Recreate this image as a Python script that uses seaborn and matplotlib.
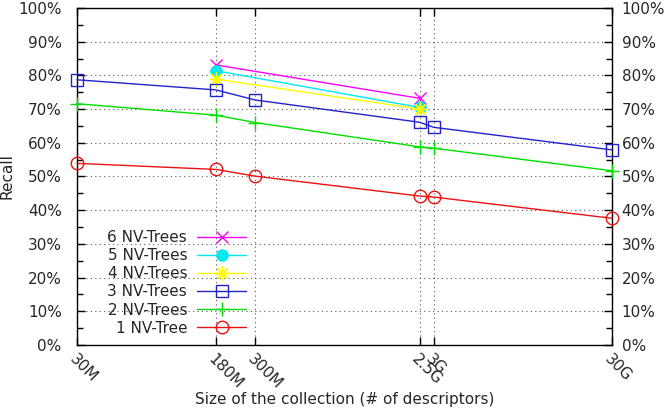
import matplotlib
matplotlib.use("Agg")
import matplotlib.pyplot as plt
import matplotlib.transforms as mtransforms
import seaborn as sns
import pandas as pd
import numpy as np
from matplotlib.ticker import FixedLocator, MultipleLocator, FuncFormatter, NullLocator

# ---- data ----
tick_values = [30e6, 180e6, 300e6, 2.5e9, 3e9, 30e9]
tick_labels = ["30M", "180M", "300M", "2.5G", "3G", "30G"]

x_full = [30e6, 180e6, 300e6, 2.5e9, 3e9, 30e9]
x_part = [180e6, 2.5e9]

recall_1 = [53.9, 52.1, 50.1, 44.2, 43.9, 37.6]
recall_2 = [71.6, 68.2, 66.0, 58.8, 58.4, 51.7]
recall_3 = [78.7, 75.7, 72.7, 66.1, 64.6, 57.9]
recall_4 = [78.9, 70.0]
recall_5 = [81.4, 70.5]
recall_6 = [83.1, 73.2]

series_names = ["6 NV-Trees", "5 NV-Trees", "4 NV-Trees", "3 NV-Trees", "2 NV-Trees", "1 NV-Tree"]

sns.set_style("ticks")
plt.rcParams['font.family'] = ['DejaVu Sans']
FS = 11

fig = plt.figure(figsize=(6.67, 4.11), dpi=100)
ax = fig.add_axes([77/667, 66/411, 535/667, 337/411])

styles = [
    (x_part, recall_6, series_names[0], "#ff00ff", "x", dict(markersize=9, markeredgewidth=1.0)),
    (x_part, recall_5, series_names[1], "#00e8f0", "o", dict(markersize=9, markeredgewidth=0)),
    (x_part, recall_4, series_names[2], "#ffff00", (8, 2, 0), dict(markersize=10, markeredgewidth=1.0)),
    (x_full, recall_3, series_names[3], "#2222cc", "s", dict(markersize=8.5, markeredgewidth=1.0, fillstyle="none")),
    (x_full, recall_2, series_names[4], "#00e000", "+", dict(markersize=10, markeredgewidth=1.0)),
    (x_full, recall_1, series_names[5], "#ee1111", "o", dict(markersize=9, markeredgewidth=1.0, fillstyle="none")),
]

for xs, ys, name, col, mk, kw in styles:
    df = pd.DataFrame({"x": xs, "y": ys})
    sns.lineplot(data=df, x="x", y="y", ax=ax, color=col, marker=mk, linewidth=1.0,
                 label=name, markeredgecolor=col, clip_on=False, zorder=3, **kw)

ax.set_xscale("log")
ax.set_xlim(30e6, 30e9)
ax.set_ylim(0, 100)

ax.xaxis.set_major_locator(FixedLocator(tick_values))
ax.xaxis.set_minor_locator(NullLocator())
ax.set_xticklabels(tick_labels, rotation=-45, ha="left", va="top", rotation_mode="anchor", fontsize=FS)

ax.yaxis.set_major_locator(MultipleLocator(10))
ax.yaxis.set_minor_locator(MultipleLocator(5))
ax.yaxis.set_major_formatter(FuncFormatter(lambda v, p: f"{int(round(v))}%"))

ax.tick_params(axis="both", which="both", direction="in", top=True, right=True,
               labelright=True, labelsize=FS, color="black")
ax.tick_params(axis="y", which="major", length=6, width=1, pad=7)
ax.tick_params(axis="y", which="minor", length=4, width=1)
ax.tick_params(axis="x", which="major", length=6, width=1, pad=5)

ax.grid(True, which="major", linestyle=(0, (1, 3)), color="#555555", linewidth=0.8)

for s in ax.spines.values():
    s.set_color("black")
    s.set_linewidth(1.0)

ax.set_xlabel("Size of the collection (# of descriptors)", fontsize=FS, labelpad=0)
ax.set_ylabel("Recall", fontsize=FS)
ax.yaxis.set_label_coords((15 - 77) / 535, 0.5)

leg = ax.legend(loc="lower right", bbox_to_anchor=((246 - 77) / 535, 0.028), frameon=False,
                markerfirst=False, handlelength=3.2, fontsize=FS, labelspacing=0.2,
                handletextpad=0.65, borderpad=0, borderaxespad=0)
for t in leg.get_texts():
    t.set_ha("right")
leg._legend_box.align = "right"

fig.canvas.draw()
shift = mtransforms.ScaledTranslation(-4 / 72, 0, fig.dpi_scale_trans)
for tick in ax.yaxis.get_major_ticks():
    tick.label1.set_transform(tick.label1.get_transform() + shift)

fig.savefig("out.png", dpi=100)
